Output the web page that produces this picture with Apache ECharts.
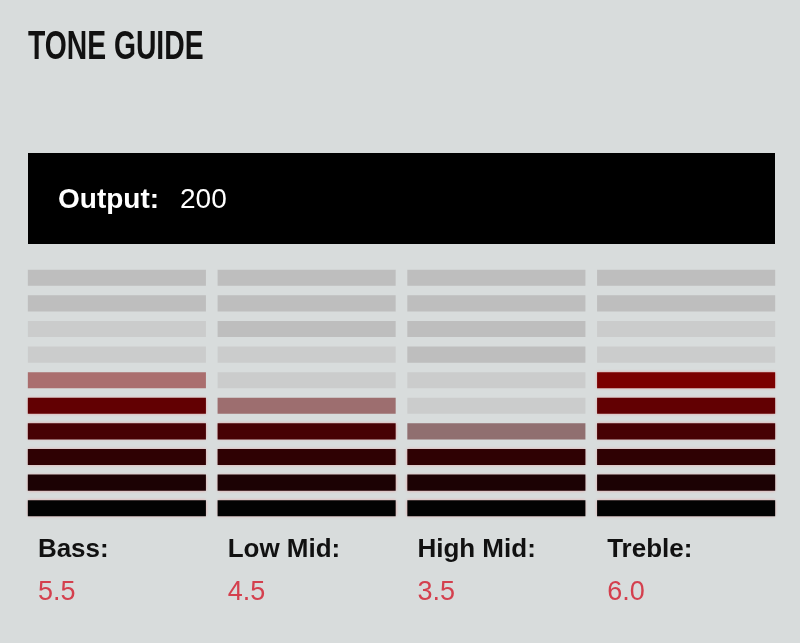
<!DOCTYPE html>
<html>
<head>
<meta charset="utf-8">
<title>Tone Guide</title>
<script src="https://cdn.jsdelivr.net/npm/echarts@6/dist/echarts.min.js"></script>
<style>
  html, body { margin: 0; padding: 0; background: #d8dcdc; }
  #chart { width: 800px; height: 643px; }
</style>
</head>
<body>
<div id="chart"></div>
<script>
// data
const TITLE = "TONE GUIDE"
const OUTPUT_LABEL = "Output:"
const OUTPUT_VALUE = 200
const CATEGORIES = ["Bass:", "Low Mid:", "High Mid:", "Treble:"]
const VALUES = [5.5, 4.5, 3.5, 6.0]
const LEVELS = 10

// colours per level, bottom to top
const LEVEL_COLORS = ["#030303", "#1c0204", "#2f0103", "#470104", "#620002", "#7b0000", "#940000", "#ad0000", "#c40000", "#db0000"]
const GRAY_DARK = "#bebebe"
const GRAY_LIGHT = "#cbcccc"
const FONT = "'Liberation Sans', Arial, sans-serif"

const chart = echarts.init(document.getElementById("chart"))

const renderItem = (params, api) => {
  const idx = api.value(0)
  const v = api.value(1)
  const unit = api.size([1, 1])
  const w = unit[0] * 0.9385
  const h = unit[1] * 0.63
  const children = []
  for (let k = 0; k < LEVELS; k++) {
    const c = api.coord([idx, k + 0.5])
    let style
    if (k + 1 <= v) {
      style = { fill: LEVEL_COLORS[k], shadowBlur: 3, shadowColor: "rgba(255,90,90,0.55)" }
    } else if (k < v) {
      // partial level, faded
      style = { fill: LEVEL_COLORS[k], opacity: 0.5 }
    } else if (k < Math.ceil(v) + 2) {
      style = { fill: GRAY_LIGHT }
    } else {
      style = { fill: GRAY_DARK }
    }
    children.push({
      type: "rect",
      shape: { x: c[0] - w / 2, y: c[1] - h / 2, width: w, height: h },
      style: style,
    })
  }
  return { type: "group", children: children }
}

const option = {
  backgroundColor: "#d8dcdc",
  animation: false,
  graphic: [
    {
      // condensed heading
      type: "text",
      x: 28,
      y: 48,
      scaleX: 0.69,
      style: {
        text: TITLE,
        font: "bold 41px " + FONT,
        fill: "#111",
        verticalAlign: "middle",
      },
    },
    {
      type: "rect",
      left: 28,
      top: 153,
      shape: { width: 747, height: 91 },
      style: { fill: "#000" },
    },
    {
      type: "text",
      x: 58,
      y: 200,
      style: {
        text: OUTPUT_LABEL,
        font: "bold 28px " + FONT,
        fill: "#fff",
        verticalAlign: "middle",
      },
    },
    {
      type: "text",
      x: 180,
      y: 200,
      style: {
        text: String(OUTPUT_VALUE),
        font: "28px " + FONT,
        fill: "#fff",
        verticalAlign: "middle",
      },
    },
  ],
  grid: {
    left: 22,
    right: 19,
    top: 265,
    bottom: 122,
  },
  xAxis: {
    type: "category",
    data: CATEGORIES,
    axisLine: { show: false },
    axisTick: { show: false },
    axisLabel: {
      margin: 12,
      formatter: (val, i) => "{a|" + val + "}\n{b|" + VALUES[i].toFixed(1) + "}",
      rich: {
        a: {
          width: 158,
          align: "left",
          fontFamily: FONT,
          fontWeight: "bold",
          fontSize: 26,
          lineHeight: 34,
          color: "#111",
        },
        b: {
          width: 158,
          align: "left",
          fontFamily: FONT,
          fontSize: 27,
          lineHeight: 52,
          color: "#d4404e",
        },
      },
    },
  },
  yAxis: {
    type: "value",
    min: 0,
    max: LEVELS,
    show: false,
  },
  series: [
    {
      type: "custom",
      renderItem: renderItem,
      data: VALUES.map((v, i) => [i, v]),
    },
  ],
}

chart.setOption(option)
</script>
</body>
</html>
